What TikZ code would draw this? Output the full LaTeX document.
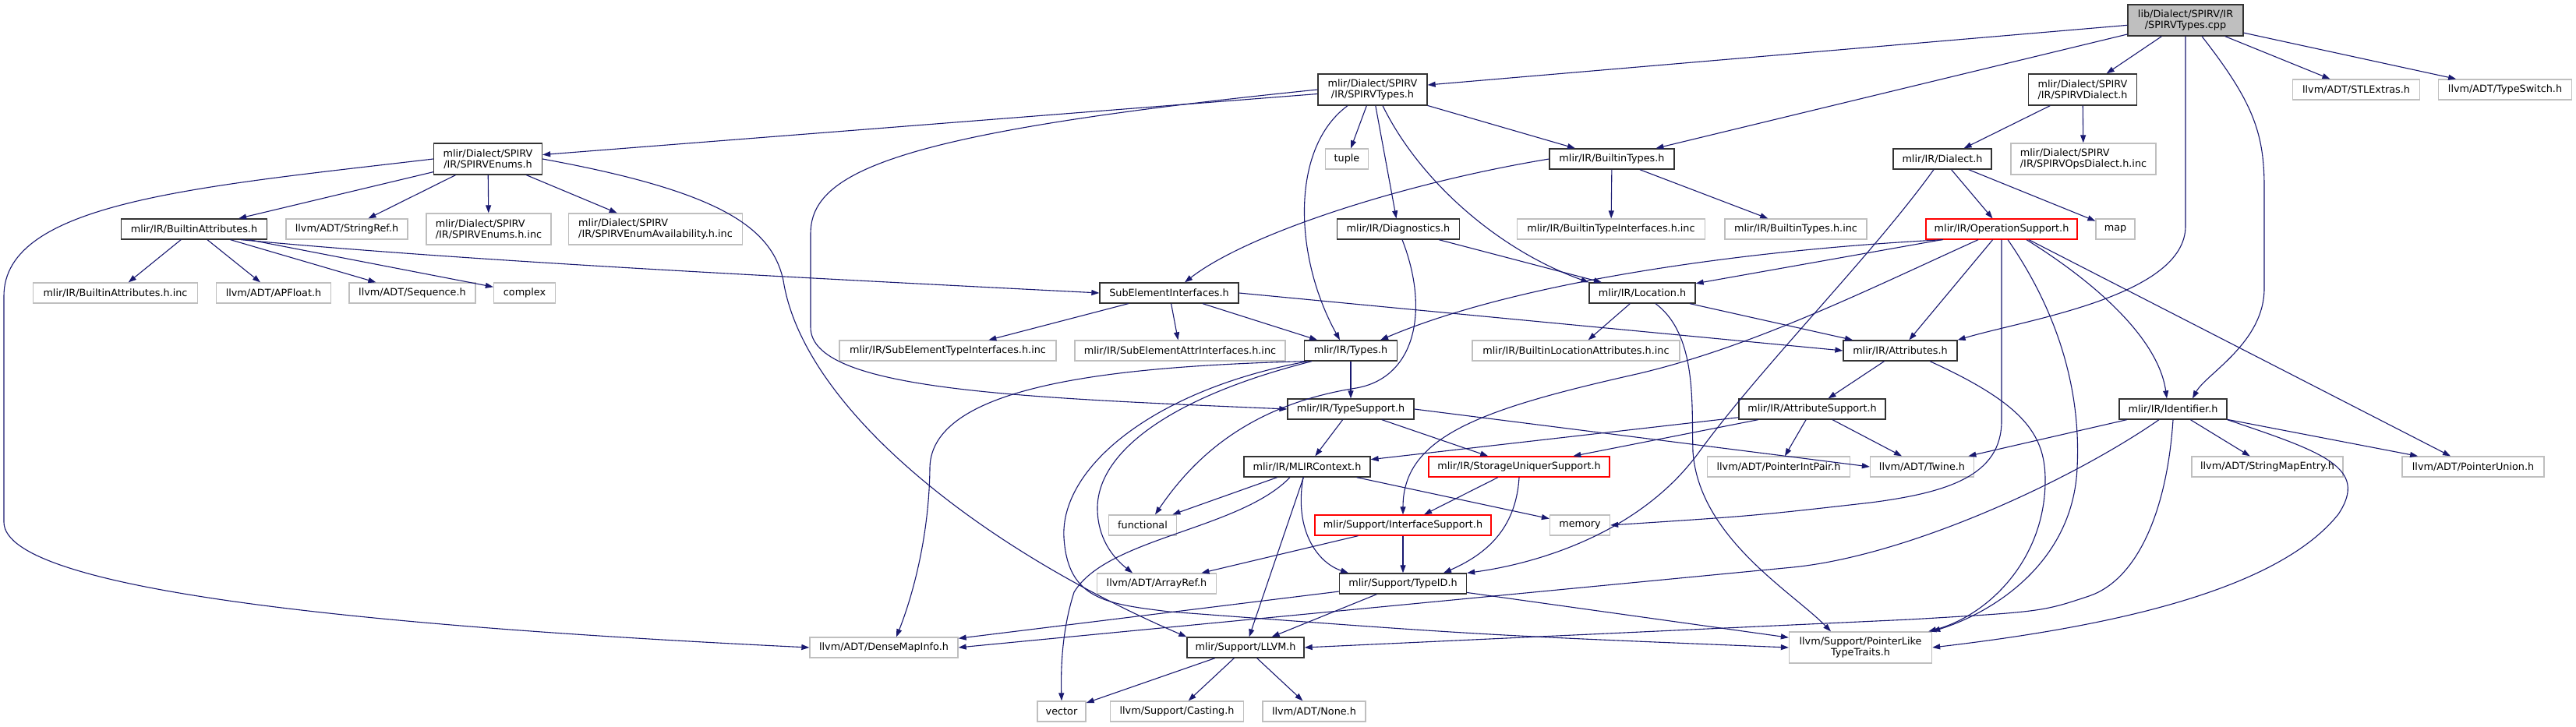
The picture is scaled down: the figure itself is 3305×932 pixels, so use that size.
\documentclass[tikz,border=0pt]{standalone}
\usepackage{fontspec}
\setmainfont{DejaVu Sans}
\usepackage{tikz}
\usetikzlibrary{arrows.meta}
\definecolor{edgeblue}{HTML}{191970}
\definecolor{nodegray}{HTML}{BFBFBF}

\begin{document}
\begin{tikzpicture}[
  x=1pt,y=-1pt,
  every node/.style={font=\fontsize{12.8}{14}\selectfont,align=center,
    inner xsep=2pt,inner ysep=0pt},
  hdr/.style={draw=black!80,fill=white,line width=1.3pt,minimum height=26pt},
  ext/.style={draw=nodegray,fill=white,line width=1.3pt,minimum height=26pt},
  trunc/.style={draw=red,fill=white,line width=1.3pt,minimum height=26pt},
  root/.style={draw=black!80,fill=nodegray,line width=1.3pt,minimum height=40pt},
  tall/.style={minimum height=40pt},
  wd/.style={minimum width=#1},
  dep/.style={draw=edgeblue,line width=1.1pt,-{Triangle[length=10pt,width=7pt]}}
]
  \path[fill=white,use as bounding box] (0,0) rectangle (3305,932);

  \node[root,wd=148] (cpp) at (2804,26) {lib/Dialect/SPIRV/IR\\/SPIRVTypes.cpp};
  \node[hdr,tall,wd=140] (spirvtypes) at (1761,115) {mlir/Dialect/SPIRV\\/IR/SPIRVTypes.h};
  \node[hdr,tall,wd=139] (spirvdialect) at (2672,115) {mlir/Dialect/SPIRV\\/IR/SPIRVDialect.h};
  \node[ext,wd=163] (stlextras) at (3023,115) {llvm/ADT/STLExtras.h};
  \node[ext,wd=171] (typeswitch) at (3214,115) {llvm/ADT/TypeSwitch.h};
  \node[hdr,tall,wd=139] (spirvenums) at (626,204) {mlir/Dialect/SPIRV\\/IR/SPIRVEnums.h};
  \node[ext,wd=55] (tuple) at (1728,204) {tuple};
  \node[hdr,wd=160] (builtintypes) at (2068,204) {mlir/IR/BuiltinTypes.h};
  \node[hdr,wd=126] (dialect) at (2492,204) {mlir/IR/Dialect.h};
  \node[ext,tall,wd=186,align=left] (opsdialectinc) at (2673,204) {mlir/Dialect/SPIRV\\/IR/SPIRVOpsDialect.h.inc};
  \node[hdr,wd=187] (builtinattrs) at (249,294) {mlir/IR/BuiltinAttributes.h};
  \node[ext,wd=156] (stringref) at (445,294) {llvm/ADT/StringRef.h};
  \node[ext,tall,wd=160,align=left] (enumsinc) at (627,294) {mlir/Dialect/SPIRV\\/IR/SPIRVEnums.h.inc};
  \node[ext,tall,wd=223,align=left] (enumavail) at (841,294) {mlir/Dialect/SPIRV\\/IR/SPIRVEnumAvailability.h.inc};
  \node[hdr,wd=157] (diagnostics) at (1794,294) {mlir/IR/Diagnostics.h};
  \node[ext,wd=241] (btinterfacesinc) at (2067,294) {mlir/IR/BuiltinTypeInterfaces.h.inc};
  \node[ext,wd=182] (btypesinc) at (2304,294) {mlir/IR/BuiltinTypes.h.inc};
  \node[trunc,wd=194] (opsupport) at (2568,294) {mlir/IR/OperationSupport.h};
  \node[ext,wd=50] (map) at (2714,294) {map};
  \node[ext,wd=211] (battrsinc) at (148,376) {mlir/IR/BuiltinAttributes.h.inc};
  \node[ext,wd=147] (apfloat) at (351,376) {llvm/ADT/APFloat.h};
  \node[ext,wd=162] (sequence) at (529,376) {llvm/ADT/Sequence.h};
  \node[ext,wd=79] (complex) at (673,376) {complex};
  \node[hdr,wd=178] (subelem) at (1500,376) {SubElementInterfaces.h};
  \node[hdr,wd=136] (location) at (2107,376) {mlir/IR/Location.h};
  \node[ext,wd=278] (subtypeinc) at (1216,450) {mlir/IR/SubElementTypeInterfaces.h.inc};
  \node[ext,wd=270] (subattrinc) at (1514,450) {mlir/IR/SubElementAttrInterfaces.h.inc};
  \node[hdr,wd=119] (types) at (1733,450) {mlir/IR/Types.h};
  \node[ext,wd=266] (blocinc) at (2022,450) {mlir/IR/BuiltinLocationAttributes.h.inc};
  \node[hdr,wd=146] (attributes) at (2438,450) {mlir/IR/Attributes.h};
  \node[hdr,wd=162] (typesupport) at (1733,525) {mlir/IR/TypeSupport.h};
  \node[hdr,wd=188] (attrsupport) at (2325,525) {mlir/IR/AttributeSupport.h};
  \node[hdr,wd=138] (identifier) at (2788,525) {mlir/IR/Identifier.h};
  \node[hdr,wd=162] (mlircontext) at (1677,599) {mlir/IR/MLIRContext.h};
  \node[trunc,wd=232] (storageuniq) at (1949,599) {mlir/IR/StorageUniquerSupport.h};
  \node[ext,wd=183] (pointerintpair) at (2282,599) {llvm/ADT/PointerIntPair.h};
  \node[ext,wd=133] (twine) at (2466,599) {llvm/ADT/Twine.h};
  \node[ext,wd=194] (stringmapentry) at (2909,599) {llvm/ADT/StringMapEntry.h};
  \node[ext,wd=182] (pointerunion) at (3173,599) {llvm/ADT/PointerUnion.h};
  \node[ext,wd=87] (functional) at (1466,674) {functional};
  \node[trunc,wd=226] (interfacesupport) at (1800,674) {mlir/Support/InterfaceSupport.h};
  \node[ext,wd=77] (memory) at (2027,674) {memory};
  \node[ext,wd=153] (arrayref) at (1484,749) {llvm/ADT/ArrayRef.h};
  \node[hdr,wd=163] (typeid) at (1800,749) {mlir/Support/TypeID.h};
  \node[ext,wd=190] (densemapinfo) at (1134,831) {llvm/ADT/DenseMapInfo.h};
  \node[hdr,wd=150] (llvmh) at (1598,831) {mlir/Support/LLVM.h};
  \node[ext,tall,wd=183] (pointerlike) at (2387,831) {llvm/Support/PointerLike\\TypeTraits.h};
  \node[ext,wd=62] (vector) at (1362,913) {vector};
  \node[ext,wd=171] (casting) at (1510,913) {llvm/Support/Casting.h};
  \node[ext,wd=132] (none) at (1686,913) {llvm/ADT/None.h};

  \draw[dep] (cpp) -- (spirvtypes);
  \draw[dep] (cpp) -- (builtintypes);
  \draw[dep] (cpp) -- (spirvdialect);
  \draw[dep] (cpp) -- (stlextras);
  \draw[dep] (cpp) -- (typeswitch);
  \draw[dep] (cpp.south) -- (2804,290) .. controls (2804,380) and (2600,410) .. (attributes.north east);
  \draw[dep] ([xshift=21pt]cpp.south) .. controls (2890,130) and (2905,170) .. (2905,240)
    -- (2905,370) .. controls (2905,440) and (2830,480) .. ([xshift=25pt]identifier.north);

  \draw[dep] (spirvtypes) -- (spirvenums);
  \draw[dep] (spirvtypes.west) .. controls (1150,170) and (1040,220) .. (1040,300)
    -- (1040,420) .. controls (1040,500) and (1300,510) .. (typesupport.west);
  \draw[dep] (spirvtypes) -- (tuple);
  \draw[dep] (spirvtypes) -- (diagnostics);
  \draw[dep] (spirvtypes) -- (builtintypes);
  \draw[dep] ([xshift=13pt]spirvtypes.south) .. controls (1820,230) and (1920,320) .. (location.north west);
  \draw[dep] ([xshift=-32pt]spirvtypes.south) .. controls (1655,190) and (1660,330) .. ([xshift=-14pt]types.north);

  \draw[dep] (spirvdialect) -- (dialect);
  \draw[dep] (spirvdialect) -- (opsdialectinc);

  \draw[dep] (spirvenums) -- (builtinattrs);
  \draw[dep] (spirvenums) -- (stringref);
  \draw[dep] (spirvenums) -- (enumsinc);
  \draw[dep] (spirvenums) -- (enumavail);
  \draw[dep] (spirvenums.west) .. controls (250,240) and (5,260) .. (5,380)
    -- (5,670) .. controls (5,760) and (500,805) .. (densemapinfo.west);
  \draw[dep] (spirvenums.east) .. controls (920,245) and (990,290) .. (1005,360)
    .. controls (1030,520) and (1250,700) .. (llvmh.north west);

  \draw[dep] (builtinattrs) -- (battrsinc);
  \draw[dep] (builtinattrs) -- (apfloat);
  \draw[dep] (builtinattrs) -- (sequence);
  \draw[dep] (builtinattrs) -- (complex);
  \draw[dep] ([xshift=60pt]builtinattrs.south) .. controls (600,335) and (1000,355) .. (subelem.west);

  \draw[dep] (builtintypes.west) .. controls (1800,235) and (1600,300) .. ([xshift=20pt]subelem.north);
  \draw[dep] (builtintypes) -- (btinterfacesinc);
  \draw[dep] (builtintypes) -- (btypesinc);

  \draw[dep] (dialect) -- (opsupport);
  \draw[dep] (dialect) -- (map);
  \draw[dep] ([xshift=-11pt]dialect.south) .. controls (2400,330) and (2260,470) .. (2180,580)
    .. controls (2100,690) and (1960,725) .. (typeid.north east);

  \draw[dep] (diagnostics) -- (location);
  \draw[dep] ([xshift=5pt]diagnostics.south) .. controls (1835,400) and (1815,485) .. (1740,498)
    .. controls (1600,520) and (1530,590) .. ([xshift=16pt]functional.north);

  \draw[dep] (opsupport) -- (location);
  \draw[dep] ([xshift=-75pt]opsupport.south) .. controls (2250,320) and (1950,360) .. ([xshift=38pt]types.north);
  \draw[dep] ([xshift=-30pt]opsupport.south) .. controls (2400,370) and (2250,445) .. (2100,480)
    .. controls (1900,525) and (1800,560) .. (interfacesupport.north);
  \draw[dep] (opsupport) -- (attributes);
  \draw[dep] (opsupport.south) -- (2568,540) .. controls (2568,610) and (2500,632) .. (2400,645)
    .. controls (2250,662) .. (memory.east);
  \draw[dep] ([xshift=8pt]opsupport.south) .. controls (2640,400) and (2670,500) .. (2665,600)
    .. controls (2660,720) and (2560,785) .. (pointerlike.north east);
  \draw[dep] ([xshift=32pt]opsupport.south) .. controls (2700,370) and (2770,440) .. ([xshift=-8pt]identifier.north);
  \draw[dep] ([xshift=35pt]opsupport.south) -- ([xshift=-29pt]pointerunion.north);

  \draw[dep] (subelem) -- (subtypeinc);
  \draw[dep] (subelem) -- (subattrinc);
  \draw[dep] (subelem) -- (types);
  \draw[dep] (subelem.east) -- (attributes.west);

  \draw[dep] (location) -- (blocinc);
  \draw[dep] (location) -- (attributes);
  \draw[dep] ([xshift=17pt]location.south) .. controls (2178,430) and (2170,520) .. (2172,580)
    .. controls (2180,690) and (2300,760) .. ([xshift=-38pt]pointerlike.north);

  \draw[dep] (types) -- (typesupport);
  \draw[dep] (types.south west) .. controls (1450,470) and (1195,490) .. (1193,600)
    .. controls (1192,700) and (1165,780) .. ([xshift=16pt]densemapinfo.north);
  \draw[dep] ([xshift=-50pt]types.south) .. controls (1500,510) and (1410,580) .. (1408,650)
    .. controls (1407,700) and (1440,725) .. ([xshift=-31pt]arrayref.north);
  \draw[dep] ([xshift=-55pt]types.south) .. controls (1480,500) and (1360,600) .. (1365,690)
    .. controls (1370,770) and (1420,775) .. (1500,785) .. controls (1900,815) .. (pointerlike.west);

  \draw[dep] (attributes) -- (attrsupport);
  \draw[dep] ([xshift=38pt]attributes.south) .. controls (2600,520) and (2625,560) .. (2624,620)
    .. controls (2622,720) and (2550,790) .. ([xshift=-5pt]pointerlike.north east);

  \draw[dep] (typesupport) -- (mlircontext);
  \draw[dep] (typesupport) -- (storageuniq);
  \draw[dep] (typesupport.east) -- (twine.west);

  \draw[dep] (attrsupport) -- (mlircontext);
  \draw[dep] (attrsupport) -- (storageuniq);
  \draw[dep] (attrsupport) -- (pointerintpair);
  \draw[dep] (attrsupport) -- (twine);

  \draw[dep] (identifier) -- (twine);
  \draw[dep] (identifier) -- (stringmapentry);
  \draw[dep] (identifier) -- (pointerunion);
  \draw[dep] ([xshift=-18pt]identifier.south) .. controls (2660,615) and (2450,713) .. (2300,728)
    -- (densemapinfo.east);
  \draw[dep] (identifier.south) .. controls (2780,660) and (2740,745) .. (2680,765)
    .. controls (2620,785) .. (2450,795) -- (llvmh.east);
  \draw[dep] (identifier.south east) .. controls (2980,580) and (3040,600) .. (3000,660)
    .. controls (2920,760) and (2700,805) .. (pointerlike.east);

  \draw[dep] (mlircontext) -- (functional);
  \draw[dep] ([xshift=-22pt]mlircontext.south) .. controls (1590,680) and (1420,690) .. (1378,760)
    .. controls (1362,810) and (1361,860) .. (vector.north);
  \draw[dep] (mlircontext) -- (llvmh);
  \draw[dep] ([xshift=-5pt]mlircontext.south) .. controls (1660,680) and (1690,722) .. ([xshift=-70pt]typeid.north);
  \draw[dep] (mlircontext) -- (memory);

  \draw[dep] (storageuniq) -- (interfacesupport);
  \draw[dep] (storageuniq.south) .. controls (1945,680) and (1905,712) .. ([xshift=52pt]typeid.north);

  \draw[dep] (interfacesupport) -- (typeid);
  \draw[dep] (interfacesupport) -- (arrayref);

  \draw[dep] (typeid) -- (densemapinfo);
  \draw[dep] (typeid) -- (pointerlike);
  \draw[dep] (typeid) -- (llvmh);

  \draw[dep] (llvmh) -- (vector);
  \draw[dep] (llvmh) -- (casting);
  \draw[dep] (llvmh) -- (none);
\end{tikzpicture}
\end{document}
